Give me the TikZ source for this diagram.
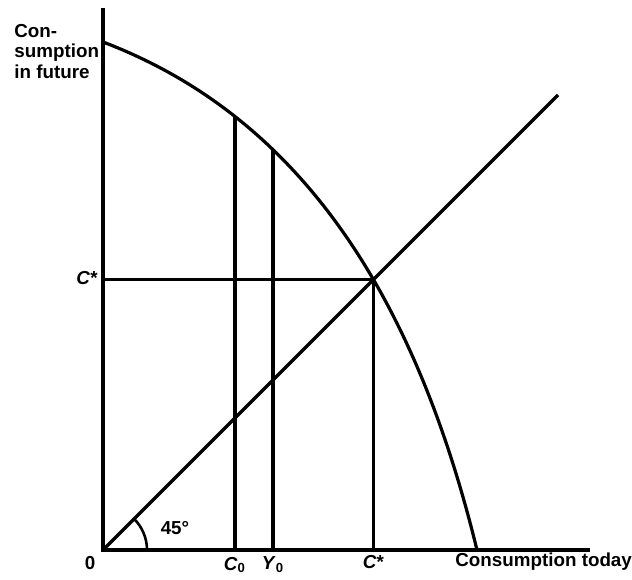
\documentclass[tikz,border=0pt]{standalone}
\usepackage{fontspec}
\setmainfont{Liberation Sans}
\usetikzlibrary{calc,intersections}

\begin{document}
\begin{tikzpicture}[x=0.5pt,y=0.5pt,
        axis/.style={line width=1.9pt},
        guide/.style={line width=1.6pt},
        lbl/.style={font=\fontsize{9.4}{10.2}\selectfont\bfseries, inner sep=0pt}]
  \useasboundingbox (-103,-29) rectangle (529,550);
  \coordinate (O) at (0,0);
  \coordinate (ytop) at (0,542);
  \coordinate (xend) at (487,0);
  \coordinate (fstart) at (0,508);
  \coordinate (fend) at (374,0);
  \coordinate (diag) at (455,455);
  % axes
  \draw[axis] (ytop) -- (O) -- (xend);
  % frontier and 45 degree line
  \draw[guide, name path=front] (fstart) .. controls (200,432) and (313,250) .. (fend);
  \draw[guide, name path=diagline] (O) -- (diag);
  \path[name path=vc0] (132,0) -- (132,540);
  \path[name path=vy0] (170,0) -- (170,540);
  \path[name intersections={of=front and vc0, by=c0}];
  \path[name intersections={of=front and vy0, by=y0}];
  \path[name intersections={of=front and diagline, by=eq}];
  % guides
  \draw[guide] (c0) -- (c0 |- O);
  \draw[guide] (y0) -- (y0 |- O);
  \draw[guide] (eq |- O) -- (eq) -- (eq -| O);
  \draw[line width=1.3pt] (44,0) arc[start angle=0, end angle=45, radius=44];
  % labels
  \node[lbl, anchor=north west, align=left] (ylab) at (-89,526) {Con-\\sumption\\in future};
  \node[lbl, anchor=east] (cstar) at (-5,272) {\textit{C}*};
  \node[lbl] (zero) at (-13,-13) {0};
  \node[lbl] (c0lab) at (c0 |- 0,-15) {\textit{C}\textsubscript{0}};
  \node[lbl] (y0lab) at (y0 |- 0,-15) {\textit{Y}\textsubscript{0}};
  \node[lbl] (cslab) at (eq |- 0,-12) {\textit{C}*};
  \node[lbl, anchor=west] (xlab) at (352,-12) {Consumption today};
  \node[lbl] (ang) at (72,22) {45°};
\end{tikzpicture}
\end{document}
